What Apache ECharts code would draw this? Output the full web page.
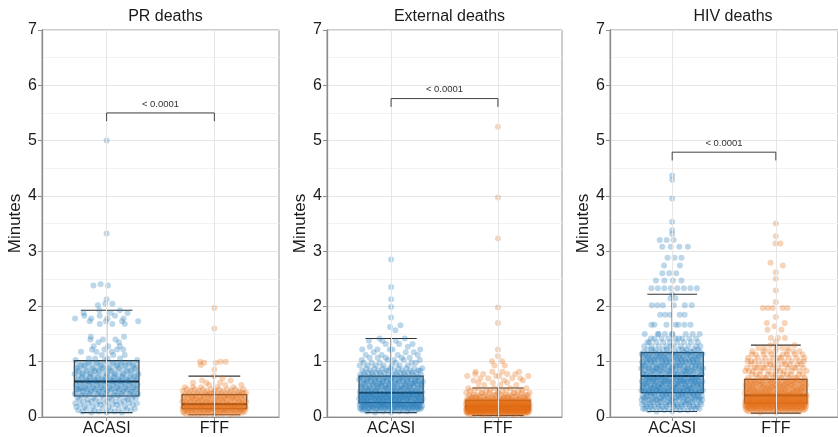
<!DOCTYPE html>
<html>
<head>
<meta charset="utf-8">
<script src="https://cdn.jsdelivr.net/npm/echarts@6/dist/echarts.min.js"></script>
<style>
  html, body { margin: 0; padding: 0; background: #fff; }
  #chart { width: 838px; height: 437px; }
</style>
</head>
<body>
<div id="chart"></div>
<script>
// Panels and groups
const panelTitles = ['PR deaths', 'External deaths', 'HIV deaths'];
const groupNames = ['ACASI', 'FTF'];
const yTicks = [0, 1, 2, 3, 4, 5, 6, 7];

// Box summaries: [lower whisker, Q1, median, Q3, upper whisker] per group
const prBoxes  = [[0.08, 0.38, 0.64, 1.02, 1.93], [0.04, 0.15, 0.23, 0.405, 0.74]];
const extBoxes = [[0.08, 0.26, 0.44, 0.74, 1.42], [0.03, 0.13, 0.19, 0.30, 0.525]];
const hivBoxes = [[0.10, 0.44, 0.74, 1.165, 2.22], [0.07, 0.25, 0.39, 0.68, 1.30]];

// Interview durations in minutes, as [minutes, number of respondents]
const prAcasi = [[5.00,1],[3.32,1],[2.40,1],[2.38,2],[2.13,1],[2.05,2],[2.02,1],[1.93,2],[1.88,3],[1.83,3],[1.78,4],[1.73,4],[1.68,3],[1.45,2],[1.40,3],[1.35,2],[1.28,3],[1.22,4],[1.18,3],[1.12,3],[1.06,4],[1.03,3],[0.98,5],[0.93,6],[0.88,6],[0.83,7],[0.78,7],[0.73,8],[0.68,8],[0.65,6],[0.62,8],[0.58,8],[0.53,8],[0.50,9],[0.46,7],[0.42,7],[0.39,6],[0.35,7],[0.32,6],[0.28,6],[0.25,6],[0.22,6],[0.18,5],[0.15,5],[0.12,4],[0.10,3],[0.08,3]];
const prFtf = [[1.97,1],[1.60,1],[1.00,3],[0.98,2],[0.94,1],[0.86,1],[0.74,1],[0.70,1],[0.66,2],[0.62,3],[0.58,3],[0.54,5],[0.50,8],[0.47,8],[0.44,9],[0.42,9],[0.40,8],[0.37,9],[0.34,10],[0.31,10],[0.28,10],[0.25,11],[0.22,14],[0.20,15],[0.18,15],[0.16,14],[0.14,12],[0.12,12],[0.10,11],[0.08,10],[0.06,8],[0.04,4]];
const extAcasi = [[2.85,1],[2.35,1],[2.13,1],[1.99,1],[1.80,1],[1.66,1],[1.63,1],[1.57,1],[1.42,2],[1.38,3],[1.32,3],[1.27,2],[1.22,5],[1.17,3],[1.12,4],[1.07,5],[1.03,5],[0.98,6],[0.93,7],[0.88,8],[0.84,10],[0.80,12],[0.76,10],[0.72,12],[0.68,12],[0.64,12],[0.60,13],[0.56,13],[0.52,13],[0.48,12],[0.45,6],[0.42,16],[0.39,16],[0.36,16],[0.33,16],[0.30,15],[0.27,14],[0.24,15],[0.22,15],[0.20,14],[0.18,13],[0.16,12],[0.14,10],[0.12,8],[0.10,4],[0.08,2]];
const extFtf = [[5.25,1],[3.97,1],[3.23,1],[1.98,1],[1.70,1],[1.22,1],[1.10,1],[1.01,2],[0.93,2],[0.82,4],[0.78,4],[0.74,4],[0.70,4],[0.66,3],[0.62,3],[0.58,3],[0.52,5],[0.48,8],[0.44,10],[0.40,12],[0.37,12],[0.34,14],[0.31,12],[0.29,20],[0.27,22],[0.25,22],[0.23,23],[0.21,22],[0.19,22],[0.18,22],[0.17,22],[0.15,22],[0.14,21],[0.12,22],[0.11,20],[0.10,18],[0.09,16],[0.08,13],[0.07,10],[0.05,7],[0.03,3]];
const hivAcasi = [[4.37,1],[4.29,1],[3.95,1],[3.53,1],[3.38,1],[3.31,1],[3.20,3],[3.08,4],[2.88,3],[2.74,2],[2.60,3],[2.47,4],[2.33,8],[2.22,1],[2.15,2],[2.02,6],[1.85,5],[1.67,7],[1.50,9],[1.42,9],[1.35,9],[1.28,10],[1.22,10],[1.18,9],[1.14,14],[1.09,14],[1.04,14],[0.99,14],[0.93,14],[0.88,14],[0.83,13],[0.78,13],[0.72,14],[0.68,14],[0.64,14],[0.60,14],[0.56,14],[0.52,14],[0.48,13],[0.45,13],[0.42,14],[0.38,14],[0.35,14],[0.31,14],[0.27,13],[0.23,13],[0.19,12],[0.15,10],[0.12,4],[0.10,2]];
const hivFtf = [[3.50,1],[3.27,1],[3.14,2],[2.79,1],[2.74,1],[2.62,1],[2.50,1],[2.29,1],[2.08,1],[1.97,5],[1.81,1],[1.70,2],[1.64,1],[1.58,2],[1.43,3],[1.36,1],[1.30,2],[1.25,5],[1.19,7],[1.13,8],[1.07,9],[1.01,10],[0.95,10],[0.89,11],[0.83,11],[0.77,11],[0.71,11],[0.66,15],[0.62,15],[0.58,15],[0.54,15],[0.50,15],[0.46,15],[0.43,15],[0.40,15],[0.38,20],[0.35,20],[0.33,20],[0.30,20],[0.28,20],[0.26,20],[0.24,20],[0.22,19],[0.20,18],[0.18,17],[0.16,15],[0.14,13],[0.12,10],[0.10,6],[0.08,2]];

// Wilcoxon comparison labels and bracket heights (minutes)
const pLabels = ['< 0.0001', '< 0.0001', '< 0.0001'];
const bracketY = [5.5, 5.76, 4.79];

const panelPoints = [[prAcasi, prFtf], [extAcasi, extFtf], [hivAcasi, hivFtf]];
const panelBoxes = [prBoxes, extBoxes, hivBoxes];

// ---- layout helpers ----
const FONT = 'Liberation Sans, Arial, Helvetica, sans-serif';
const TEXT = '#1a1a1a';
const pointColors = ['rgba(27,117,184,0.36)', 'rgba(230,112,24,0.38)'];
const boxFills = ['rgba(31,119,180,0.30)', 'rgba(236,128,44,0.28)'];
const grids = [
  { left: 42, top: 30, width: 237, height: 387 },
  { left: 327, top: 30, width: 235, height: 387 },
  { left: 610, top: 30, width: 236, height: 387 }
];
const nameGaps = [13, 17, 17];

function expand(bins) {
  const out = [];
  bins.forEach(([v, n]) => { for (let k = 0; k < n; k++) out.push(v); });
  return out;
}

// van der Corput sequence, used for quasi-random horizontal spreading
function vdc(n) {
  let v = 0, d = 1;
  while (n > 0) { d *= 2; v += (n % 2) / d; n = Math.floor(n / 2); }
  return v;
}

// Quasirandom placement: isolated values sit on the centre line, crowded
// values fan out up to roughly the box width
function swarm(values, center) {
  const v = values.slice().sort((a, b) => a - b);
  const reach = 0.06, full = 10, maxHalf = 0.3;
  return v.map((y, i) => {
    let n = 0;
    for (let j = 0; j < v.length; j++) if (j !== i && Math.abs(v[j] - y) <= reach) n++;
    const w = maxHalf * Math.min(1, Math.sqrt(n / full));
    return [center + (vdc(i + 1) * 2 - 1) * w, y];
  });
}

const option = {
  animation: false,
  backgroundColor: '#ffffff',
  textStyle: { fontFamily: FONT },
  title: panelTitles.map((t, i) => ({
    text: t,
    left: grids[i].left + grids[i].width / 2,
    top: 4,
    textAlign: 'center',
    textStyle: { fontSize: 16, fontWeight: 'normal', color: TEXT, fontFamily: FONT }
  })),
  grid: grids.map(g => Object.assign({ show: true, borderColor: '#9a9a9a', borderWidth: 1, backgroundColor: 'transparent' }, g)),
  xAxis: grids.map((g, i) => ({
    type: 'value', gridIndex: i, min: 0.4, max: 2.6,
    splitLine: { show: false },
    axisLine: { show: true, onZero: false, lineStyle: { color: '#8c8c8c', width: 1 } },
    axisTick: { show: true, length: 4, customValues: [1, 2], lineStyle: { color: '#8c8c8c' } },
    axisLabel: {
      customValues: [1, 2], margin: 4, fontSize: 16, color: TEXT, fontFamily: FONT,
      formatter: v => groupNames[Math.round(v) - 1]
    }
  })),
  yAxis: grids.map((g, i) => ({
    type: 'value', gridIndex: i, min: yTicks[0], max: yTicks[yTicks.length - 1], interval: 1,
    name: 'Minutes', nameLocation: 'middle', nameGap: nameGaps[i],
    nameTextStyle: { fontSize: 17, color: TEXT, fontFamily: FONT },
    axisLine: { show: true, lineStyle: { color: '#8c8c8c', width: 1.3 } },
    axisTick: { show: true, length: 4, lineStyle: { color: '#8c8c8c' } },
    axisLabel: { margin: 5, fontSize: 16, color: TEXT, fontFamily: FONT },
    splitLine: { show: true, lineStyle: { color: '#e6e6e6', width: 1 } },
    minorTick: { show: false, splitNumber: 2 },
    minorSplitLine: { show: true, lineStyle: { color: '#f2f2f2', width: 1 } }
  })),
  series: []
};

panelTitles.forEach((t, i) => {
  // vertical grid lines at each group
  option.series.push({
    type: 'scatter', xAxisIndex: i, yAxisIndex: i, data: [], z: 1, silent: true,
    markLine: {
      silent: true, symbol: 'none', label: { show: false }, animation: false,
      lineStyle: { color: '#e6e6e6', width: 1, type: 'solid' },
      data: [{ xAxis: 1 }, { xAxis: 2 }]
    }
  });

  // box plots
  option.series.push({
    type: 'custom', xAxisIndex: i, yAxisIndex: i, z: 3, silent: true,
    data: panelBoxes[i].map((b, g) => [g + 1].concat(b).concat([g])),
    encode: { x: 0, y: [1, 2, 3, 4, 5] },
    renderItem: (params, api) => {
      const x = api.value(0);
      const lo = api.value(1), q1 = api.value(2), md = api.value(3), q3 = api.value(4), hi = api.value(5);
      const g = api.value(6);
      const hw = 0.3, cw = 0.24;
      const tl = api.coord([x - hw, q3]), br = api.coord([x + hw, q1]);
      const c = api.coord([x, 0])[0];
      const yLo = api.coord([x, lo])[1], yHi = api.coord([x, hi])[1];
      const yMd = api.coord([x, md])[1];
      const cl = api.coord([x - cw, 0])[0], cr = api.coord([x + cw, 0])[0];
      const stroke = { stroke: '#333333', lineWidth: 1.1 };
      return {
        type: 'group',
        children: [
          { type: 'line', shape: { x1: c, y1: yHi, x2: c, y2: tl[1] }, style: stroke },
          { type: 'line', shape: { x1: c, y1: br[1], x2: c, y2: yLo }, style: stroke },
          { type: 'line', shape: { x1: cl, y1: yHi, x2: cr, y2: yHi }, style: stroke },
          { type: 'line', shape: { x1: cl, y1: yLo, x2: cr, y2: yLo }, style: stroke },
          { type: 'rect', shape: { x: tl[0], y: tl[1], width: br[0] - tl[0], height: br[1] - tl[1] },
            style: { fill: boxFills[g], stroke: '#333333', lineWidth: 1.1 } },
          { type: 'line', shape: { x1: tl[0], y1: yMd, x2: br[0], y2: yMd }, style: { stroke: '#111111', lineWidth: 2 } }
        ]
      };
    }
  });

  // individual responses
  panelPoints[i].forEach((bins, g) => {
    option.series.push({
      type: 'scatter', xAxisIndex: i, yAxisIndex: i, z: 4, silent: true,
      symbol: 'circle', symbolSize: 6,
      itemStyle: { color: pointColors[g], borderWidth: 0 },
      data: swarm(expand(bins), g + 1)
    });
  });

  // significance bracket
  option.series.push({
    type: 'custom', xAxisIndex: i, yAxisIndex: i, z: 5, silent: true,
    data: [[1, 2, bracketY[i]]],
    encode: { x: [0, 1], y: 2 },
    renderItem: (params, api) => {
      const x1 = api.value(0), x2 = api.value(1), y = api.value(2);
      const tip = 0.15;
      const a = api.coord([x1, y - tip]), b = api.coord([x1, y]), c = api.coord([x2, y]), d = api.coord([x2, y - tip]);
      return {
        type: 'group',
        children: [
          { type: 'polyline', shape: { points: [a, b, c, d] }, style: { stroke: '#444444', lineWidth: 1, fill: null } },
          { type: 'text', style: { x: (b[0] + c[0]) / 2, y: b[1] - 4, text: pLabels[i], fill: '#333333',
            font: '9.5px ' + FONT, textAlign: 'center', textVerticalAlign: 'bottom' } }
        ]
      };
    }
  });
});

const chart = echarts.init(document.getElementById('chart'), null, { renderer: 'canvas' });
chart.setOption(option);
</script>
</body>
</html>
